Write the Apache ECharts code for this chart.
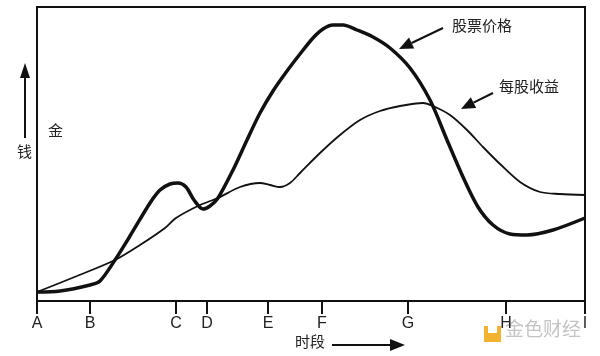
<!DOCTYPE html>
<html>
<head>
<meta charset="utf-8">
<script src="https://cdn.jsdelivr.net/npm/echarts@6/dist/echarts.min.js"></script>
<style>html,body{margin:0;padding:0;background:#fff}#c{width:600px;height:356px}</style>
</head>
<body>
<div id="c"></div>
<script>
// Period tick positions and labels
var tickLabels = ['A','B','C','D','E','F','G','H','I'];
var tickPositions = [0, 53, 139, 170, 231, 285, 371, 469, 548];

// Stock price (thick line)
var priceX = [0, 23, 53, 63, 78, 93, 113, 123, 133, 141, 149, 157, 166, 173, 181, 196, 210, 223, 236, 250, 263, 276, 286, 296, 306, 320, 336, 353, 373, 393, 410, 426, 441, 456, 473, 490, 516, 548];
var priceY = [9, 10, 16, 20, 41, 65, 98, 111, 117, 118, 114, 101, 92, 95, 103, 131, 161, 188, 210, 230, 247, 263, 272, 276, 276, 271, 264, 253, 233, 201, 161, 124, 94, 76, 67, 66, 71, 83];

// Earnings per share (thin line)
var epsX = [0, 40, 78, 103, 128, 139, 163, 181, 203, 223, 233, 243, 253, 263, 283, 303, 323, 343, 363, 386, 396, 413, 430, 446, 463, 483, 503, 523, 548];
var epsY = [9, 25, 41, 56, 73, 83, 96, 103, 114, 118, 116, 114, 118, 128, 148, 166, 181, 190, 195, 198, 195, 186, 171, 154, 137, 119, 109, 107, 106];

function pairs(xs, ys){ return xs.map(function(x,i){ return [x, ys[i]]; }); }

var chart = echarts.init(document.getElementById('c'), null, {renderer:'canvas'});
var cjk = '"Noto Sans CJK SC", sans-serif';
chart.setOption({
  animation: false,
  backgroundColor: '#fff',
  grid: {left: 37, right: 15, top: 7, bottom: 55, show: true, borderColor: '#111', borderWidth: 2, backgroundColor: 'transparent'},
  xAxis: {
    type: 'value', min: 0, max: 548,
    axisLine: {show: true, onZero: false, lineStyle: {color: '#111', width: 2}},
    axisTick: {show: true, customValues: tickPositions, length: 13, lineStyle: {color: '#111', width: 2}},
    axisLabel: {show: true, customValues: tickPositions, margin: 15, color: '#222', fontSize: 16, fontFamily: '"Liberation Sans", Arial, sans-serif',
      formatter: function(v){ var i = tickPositions.indexOf(v); return i >= 0 ? tickLabels[i] : ''; }},
    splitLine: {show: false}
  },
  yAxis: {
    type: 'value', min: 0, max: 294,
    axisLine: {show: true, lineStyle: {color: '#111', width: 2}},
    axisTick: {show: false}, axisLabel: {show: false}, splitLine: {show: false}
  },
  series: [
    {type: 'line', data: pairs(priceX, priceY), showSymbol: false, smooth: 0.3, lineStyle: {color: '#111', width: 3.5}},
    {type: 'line', data: pairs(epsX, epsY), showSymbol: false, smooth: 0.3, lineStyle: {color: '#111', width: 1.8}}
  ],
  graphic: [
    // y-axis label and arrow
    {type: 'text', left: 17, top: 144, style: {text: '钱', font: '15px ' + cjk, fill: '#222'}},
    {type: 'text', left: 48, top: 123, style: {text: '金', font: '15px ' + cjk, fill: '#222'}},
    {type: 'line', shape: {x1: 25, y1: 138, x2: 25, y2: 76}, style: {stroke: '#111', lineWidth: 2}},
    {type: 'polygon', shape: {points: [[25, 63], [20, 78], [30, 78]]}, style: {fill: '#111'}},
    // x-axis title and arrow
    {type: 'text', left: 295, top: 334, style: {text: '时段', font: '15px ' + cjk, fill: '#222'}},
    {type: 'line', shape: {x1: 332, y1: 345, x2: 391, y2: 345}, style: {stroke: '#111', lineWidth: 2}},
    {type: 'polygon', shape: {points: [[405, 345], [390, 339], [390, 351]]}, style: {fill: '#111'}},
    // annotations
    {type: 'text', left: 452, top: 18, style: {text: '股票价格', font: '15px ' + cjk, fill: '#222'}},
    {type: 'line', shape: {x1: 443, y1: 28, x2: 411.6, y2: 43}, style: {stroke: '#111', lineWidth: 2}},
    {type: 'polygon', shape: {points: [[399, 49], [414.2, 48.4], [409.0, 37.6]]}, style: {fill: '#111'}},
    {type: 'text', left: 499, top: 79, style: {text: '每股收益', font: '15px ' + cjk, fill: '#222'}},
    {type: 'line', shape: {x1: 493, y1: 93, x2: 473.5, y2: 102.7}, style: {stroke: '#111', lineWidth: 2}},
    {type: 'polygon', shape: {points: [[461, 109], [476.2, 108.1], [470.8, 97.3]]}, style: {fill: '#111'}},
    // watermark
    {type: 'rect', shape: {x: 484, y: 326, width: 17, height: 16}, style: {fill: '#f2b330'}},
    {type: 'rect', shape: {x: 488, y: 322, width: 9, height: 11}, style: {fill: '#fff'}},
    {type: 'text', left: 505, top: 319, style: {text: '金色财经', font: '19px ' + cjk, fill: '#c4c4c4'}}
  ]
});
</script>
</body>
</html>
